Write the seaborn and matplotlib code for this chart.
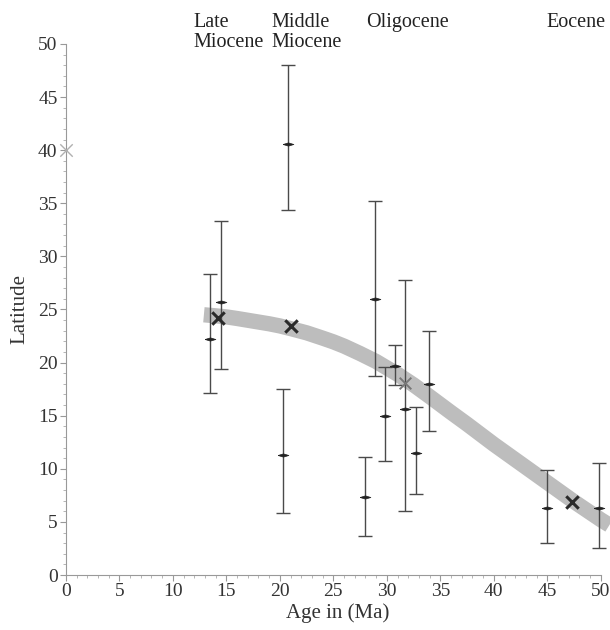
import matplotlib
matplotlib.use("Agg")
import matplotlib.pyplot as plt
import seaborn as sns
import pandas as pd
from matplotlib.ticker import MultipleLocator

# Sample points with error bars (age in Ma, latitude, lower / upper bounds)
ages = [13.5, 14.5, 20.8, 20.3, 28.0, 28.9, 29.8, 30.8, 31.7, 32.7, 33.9, 45.0, 49.8]
lats = [22.2, 25.7, 40.6, 11.3, 7.3, 26.0, 15.0, 19.7, 15.6, 11.5, 18.0, 6.3, 6.3]
lat_low = [17.1, 19.4, 34.4, 5.8, 3.7, 18.7, 10.7, 17.9, 6.0, 7.6, 13.6, 3.0, 2.5]
lat_high = [28.3, 33.3, 48.0, 17.5, 11.1, 35.2, 19.6, 21.7, 27.8, 15.8, 23.0, 9.9, 10.5]

# Pole / mean positions (crosses)
mean_ages = [14.2, 21.0, 47.3]
mean_lats = [24.2, 23.4, 6.9]
hidden_age = [31.7]
hidden_lat = [18.1]
present_age = [0]
present_lat = [40]

# Grey trend band
curve_ages = [12.9, 14, 15, 16, 17.5, 19, 20, 21, 22.5, 24, 25, 26, 27.5, 29, 30, 31,
              32.5, 34, 35, 36, 37.5, 40, 42.5, 45, 47.5, 50, 50.8]
curve_lats = [24.5, 24.4, 24.3, 24.15, 23.9, 23.65, 23.45, 23.2, 22.8, 22.3, 21.95, 21.55,
              20.85, 20.1, 19.5, 18.9, 17.9, 16.8, 16.05, 15.3, 14.2, 12.3, 10.5, 8.7,
              6.9, 5.2, 4.7]

# Epoch labels
epoch_names = ["Late\nMiocene", "Middle\nMiocene", "Oligocene", "Eocene"]
epoch_x = [11.9, 19.25, 28.1, 44.9]

sns.set_theme(style="ticks")
plt.rcParams["font.family"] = ["Liberation Serif", "DejaVu Serif"]

fig = plt.figure(figsize=(6.1, 6.3), dpi=100)
ax = fig.add_axes([0.108, 0.0873, 0.891, 0.843])

curve = pd.DataFrame({"age": curve_ages, "lat": curve_lats})
sns.lineplot(data=curve, x="age", y="lat", ax=ax, color="#bdbdbd",
             linewidth=11, solid_capstyle="butt", solid_joinstyle="round",
             clip_on=False, zorder=1)

yerr = [[l - lo for l, lo in zip(lats, lat_low)],
        [hi - l for l, hi in zip(lats, lat_high)]]
ax.errorbar(ages, lats, yerr=yerr, fmt="none", ecolor="#4a4a4a",
            elinewidth=1.0, capsize=5, capthick=1.0, zorder=3)

diamond = [(-1, 0), (0, 0.3), (1, 0), (0, -0.3), (-1, 0)]
pts = pd.DataFrame({"age": ages, "lat": lats})
sns.scatterplot(data=pts, x="age", y="lat", ax=ax, marker=diamond, s=60,
                color="#222222", edgecolor="#222222", linewidth=0.5, zorder=4)

ax.scatter(mean_ages, mean_lats, marker="x", s=80, color="#2a2a2a",
           linewidths=2.2, zorder=5)
ax.scatter(hidden_age, hidden_lat, marker="x", s=70, color="#777777",
           linewidths=1.4, zorder=5)
ax.scatter(present_age, present_lat, marker="x", s=80, color="#b0b0b0",
           linewidths=1.0, zorder=5, clip_on=False)

ax.set_xlim(0, 50.8)
ax.set_ylim(0, 50)
ax.spines["bottom"].set_bounds(0, 50)
ax.spines["left"].set_bounds(0, 50)
for side in ["top", "right"]:
    ax.spines[side].set_visible(False)
for side in ["bottom", "left"]:
    ax.spines[side].set_color("#999999")
    ax.spines[side].set_linewidth(0.8)

ax.xaxis.set_major_locator(MultipleLocator(5))
ax.xaxis.set_minor_locator(MultipleLocator(1))
ax.yaxis.set_major_locator(MultipleLocator(5))
ax.yaxis.set_minor_locator(MultipleLocator(1))
ax.set_xticks([t for t in range(0, 51, 5)])
ax.tick_params(which="major", length=4, width=0.8, color="#999999",
               labelsize=14, labelcolor="#333333", pad=2)
ax.tick_params(which="minor", length=2.5, width=0.6, color="#aaaaaa")

ax.set_xlabel("Age in (Ma)", fontsize=15, color="#333333", labelpad=2)
ax.set_ylabel("Latitude", fontsize=15, color="#333333", labelpad=6)

for name, x in zip(epoch_names, epoch_x):
    ax.text(x, 1.058, name, transform=ax.get_xaxis_transform(),
            fontsize=14.5, color="#222222", va="top", ha="left",
            linespacing=1.05)

fig.savefig("out.png", dpi=100)
